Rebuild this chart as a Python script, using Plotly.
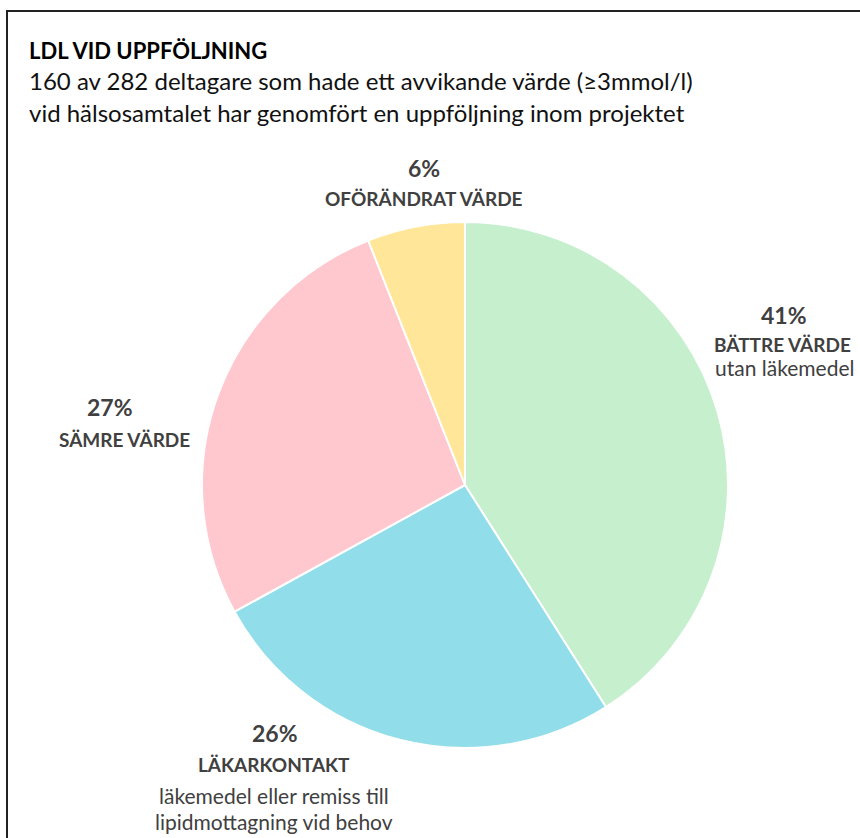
import plotly.graph_objects as go

categories = ["BÄTTRE VÄRDE", "LÄKARKONTAKT", "SÄMRE VÄRDE", "OFÖRÄNDRAT VÄRDE"]
values = [41, 26, 27, 6]
colors = ["#C6EFCE", "#92DDEA", "#FFC7CE", "#FFE699"]
notes = [["utan läkemedel"], ["läkemedel eller remiss till", "lipidmottagning vid behov"], [], []]

title_text = "LDL VID UPPFÖLJNING"
subtitle_lines = [
    "160 av 282 deltagare som hade ett avvikande värde (≥3mmol/l)",
    "vid hälsosamtalet har genomfört en uppföljning inom projektet",
]

W, H = 860, 838
FONT = "Lato"
TXT = "#404040"

def px(x):
    return x / W

def py(y):
    return 1 - y / H

cx, cy, r = 465, 485, 263

fig = go.Figure(go.Pie(
    labels=categories,
    values=values,
    sort=False,
    direction="clockwise",
    rotation=0,
    marker=dict(colors=colors, line=dict(color="white", width=2)),
    textinfo="none",
    hoverinfo="label+percent",
    showlegend=False,
    domain=dict(x=[px(cx - r), px(cx + r)], y=[py(cy + r), py(cy - r)]),
))

ann = []
# title & subtitle
ann.append(dict(x=px(27), y=py(50), text="<b>" + title_text + "</b>", xanchor="left", yanchor="middle",
                font=dict(family=FONT, size=22, color="#000000")))
for i, line in enumerate(subtitle_lines):
    ann.append(dict(x=px(27), y=py(81 + 32 * i), text=line, xanchor="left", yanchor="middle",
                    font=dict(family=FONT, size=24, color="#111111")))

# label positions: (pct center x, pct y, name x, name y, note x, note y0)
label_pos = [
    (784, 315, 782, 344, 784, 367),
    (275, 733, 274, 764, 274, 795),
    (110, 407, 124, 439, None, None),
    (424, 168, 424, 198, None, None),
]
for cat, v, nl, (pxc, pyc, nx, ny, tx, ty) in zip(categories, values, notes, label_pos):
    ann.append(dict(x=px(pxc), y=py(pyc), text=f"<b>{v}%</b>", xanchor="center", yanchor="middle",
                    font=dict(family=FONT, size=23, color=TXT)))
    ann.append(dict(x=px(nx), y=py(ny), text=f"<b>{cat}</b>", xanchor="center", yanchor="middle",
                    font=dict(family=FONT, size=19, color=TXT)))
    for j, note in enumerate(nl):
        ann.append(dict(x=px(tx), y=py(ty + 26 * j), text=note, xanchor="center", yanchor="middle",
                        font=dict(family=FONT, size=21, color=TXT)))

for a in ann:
    a.update(xref="paper", yref="paper", showarrow=False)

fig.update_layout(
    width=W, height=H,
    margin=dict(l=0, r=0, t=0, b=0),
    paper_bgcolor="white",
    plot_bgcolor="white",
    annotations=ann,
    shapes=[dict(type="rect", xref="paper", yref="paper",
                 x0=px(7), x1=px(W + 20), y0=py(H + 20), y1=py(11),
                 line=dict(color="#222222", width=2))],
)

fig.write_html("out.html", config={"displayModeBar": False},
               post_script="document.body.style.margin='0px';document.body.style.overflow='hidden';")
